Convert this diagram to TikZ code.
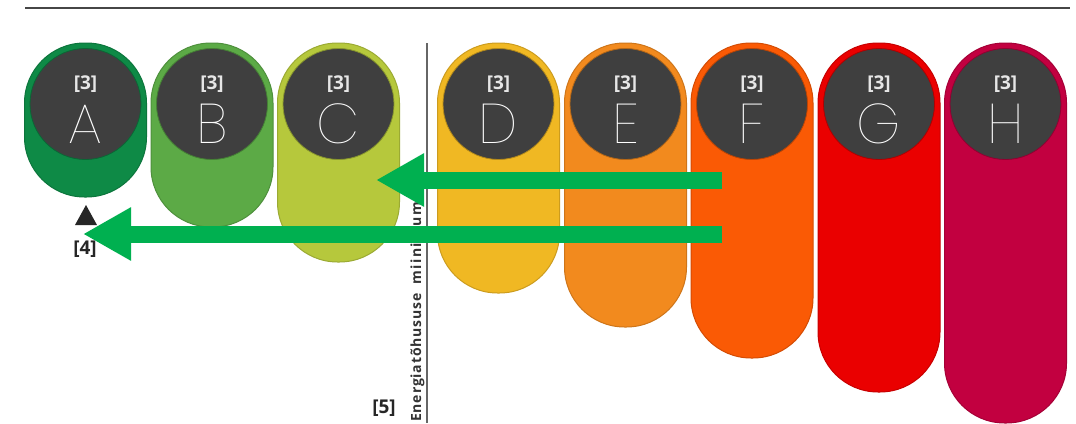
\documentclass[tikz,border=0pt]{standalone}
\usepackage{fontspec}
\usetikzlibrary{arrows.meta}
\setmainfont{Liberation Sans}
\newfontfamily\boldf{Open Sans}
\newfontfamily\vertfa{Open Sans}[LetterSpace=6]
\newfontfamily\vertfb{Open Sans}[LetterSpace=10]
\IfFontExistsTF{Poppins Thin}{\newfontfamily\thinf{Poppins Thin}}{%
  \IfFontExistsTF{Lato Thin}{\newfontfamily\thinf{Lato Thin}}{%
    \IfFontExistsTF{Lato Light}{\newfontfamily\thinf{Lato Light}}{\newfontfamily\thinf{Liberation Sans}}}}
\definecolor{cA}{RGB}{14,138,70}
\definecolor{cB}{RGB}{92,170,70}
\definecolor{cC}{RGB}{182,200,60}
\definecolor{cD}{RGB}{240,184,35}
\definecolor{cE}{RGB}{242,138,30}
\definecolor{cF}{RGB}{250,90,5}
\definecolor{cG}{RGB}{234,0,0}
\definecolor{cH}{RGB}{194,0,64}
\definecolor{disc}{RGB}{63,63,63}
\definecolor{garrow}{RGB}{0,176,80}
\definecolor{labgray}{RGB}{230,230,230}
\definecolor{rule}{RGB}{70,70,70}
\begin{document}
\begin{tikzpicture}[x=1pt,y=-1pt,
  pill/.style={rectangle, rounded corners=60pt, minimum width=122pt, inner sep=0pt, line width=1pt},
  disc/.style={circle, fill=disc, minimum size=111pt, inner sep=0pt},
  lab/.style={font=\boldf\bfseries\fontsize{19}{19}\selectfont, text=labgray, anchor=base, inner sep=0pt},
  letter/.style={font=\thinf\fontsize{56}{56}\selectfont, text=white, anchor=base, inner sep=0pt},
  blk/.style={font=\boldf\bfseries\fontsize{19}{19}\selectfont, text=black!85, anchor=base, inner sep=0pt},
  garr/.style={draw=garrow, line width=17pt, -{Triangle[length=48pt,width=50pt]}}]
\useasboundingbox (0,0) rectangle (1076,423);
\fill[white] (0,0) rectangle (1076,423);
% top rule
\coordinate (r1) at (25,8);
\coordinate (r2) at (1070,8);
\draw[rule, line width=2pt] (r1) -- (r2);
% pills
\foreach \n/\cx/\top/\bot in {A/85.5/43/197, B/212/43/227, C/338.5/43/262, D/498.5/43/293, E/625.5/43/327, F/752/43/358, G/879/43/392, H/1005.5/43/423}{
  \pgfmathsetmacro\h{\bot-\top}
  \pgfmathsetmacro\cy{(\bot+\top)/2}
  \node[pill, fill=c\n, draw=c\n!85!black, minimum height=\h pt] (p\n) at (\cx,\cy) {};
  \node[disc, draw=c\n!75!black, line width=0.8pt] (d\n) at (\cx,104) {};
  \node[lab] (l\n) at (\cx,89) {[3]};
  \node[letter] (t\n) at (\cx,143) {\n};
}
% separator line
\coordinate (s1) at (427,43);
\coordinate (s2) at (427,423);
\draw[gray!80!black, line width=1.4pt] (s1) -- (s2);
% vertical text
\node[rotate=90, anchor=base west, inner sep=0pt, font=\bfseries\fontsize{14}{14}\selectfont, text=black!80] (vt) at (421,422) {\vertfa\bfseries Energiatõhususe\hspace{9pt}\vertfb\bfseries miinimumnõ};
% labels
\fill[black!85] (75,225) -- (97,225) -- (86,205) -- cycle;
\node[blk] (l4) at (85,254) {[4]};
\node[blk] (l5) at (384,413) {[5]};
% arrows
\coordinate (a1s) at (722,180);
\coordinate (a1e) at (376,180);
\coordinate (a2s) at (722,234);
\coordinate (a2e) at (83,234);
\draw[garr] (a1s) -- (a1e);
\draw[garr] (a2s) -- (a2e);
\end{tikzpicture}
\end{document}
